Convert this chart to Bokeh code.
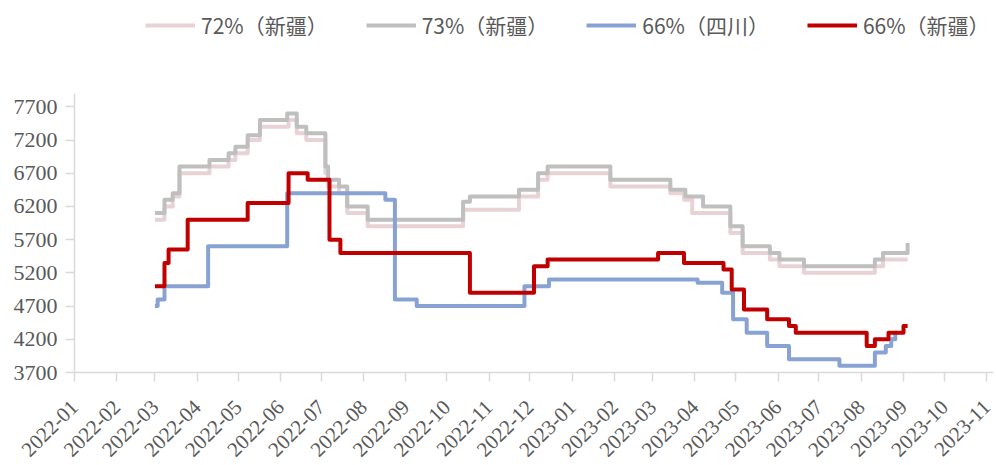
from datetime import datetime
import math

import pandas as pd
from bokeh.plotting import figure
from bokeh.layouts import column
from bokeh.models import (Range1d, FixedTicker, DatetimeTickFormatter,
                          Legend, LegendItem, ColumnDataSource)
from bokeh.embed import file_html
from bokeh.resources import INLINE

# ---- price series (yuan/t), each entry marks the date a new price starts ----
pink_dates = ["2022-03-01", "2022-03-08", "2022-03-14", "2022-03-19", "2022-04-10",
              "2022-04-24", "2022-04-29", "2022-05-08", "2022-05-17", "2022-06-07",
              "2022-06-13", "2022-06-20", "2022-07-04", "2022-07-06", "2022-07-14",
              "2022-07-20", "2022-08-04", "2022-10-13", "2022-11-23", "2022-12-07",
              "2022-12-14", "2023-01-29", "2023-03-14", "2023-03-24", "2023-03-30",
              "2023-04-27", "2023-05-06", "2023-05-26", "2023-06-02", "2023-06-20",
              "2023-08-11", "2023-08-17", "2023-09-04"]
pink_vals = [6000, 6200, 6350, 6700, 6800,
             6900, 7000, 7200, 7400, 7500,
             7300, 7200, 6700, 6500, 6400,
             6100, 5900, 6150, 6350, 6600,
             6700, 6500, 6400, 6300, 6100,
             5800, 5500, 5400, 5300, 5200,
             5300, 5400, 5400]

gray_dates = ["2022-03-01", "2022-03-08", "2022-03-14", "2022-03-19", "2022-04-10",
              "2022-04-24", "2022-04-29", "2022-05-08", "2022-05-17", "2022-06-06",
              "2022-06-13", "2022-06-20", "2022-07-04", "2022-07-06", "2022-07-14",
              "2022-07-20", "2022-08-04", "2022-10-13", "2022-10-18", "2022-11-23",
              "2022-12-07", "2022-12-14", "2023-01-29", "2023-03-14", "2023-03-25",
              "2023-04-07", "2023-04-27", "2023-05-06", "2023-05-26", "2023-06-02",
              "2023-06-20", "2023-08-11", "2023-08-17", "2023-09-03", "2023-09-04"]
gray_vals = [6100, 6300, 6400, 6800, 6900,
             7000, 7100, 7270, 7500, 7600,
             7400, 7300, 6800, 6600, 6500,
             6200, 6000, 6270, 6350, 6450,
             6700, 6800, 6600, 6450, 6350,
             6200, 5900, 5600, 5500, 5400,
             5300, 5400, 5500, 5500, 5650]

blue_dates = ["2022-03-01", "2022-03-03", "2022-03-08", "2022-04-09", "2022-06-06",
              "2022-08-17", "2022-08-24", "2022-09-09", "2022-11-27", "2022-12-15",
              "2023-04-03", "2023-04-21", "2023-04-29", "2023-05-09", "2023-05-24",
              "2023-06-09", "2023-07-16", "2023-08-11", "2023-08-19", "2023-08-23",
              "2023-08-26", "2023-08-27"]
blue_vals = [4700, 4800, 5000, 5600, 6400,
             6300, 4800, 4700, 5000, 5100,
             5050, 4900, 4500, 4300, 4100,
             3900, 3800, 4000, 4100, 4200,
             4300, 4300]

red_dates = ["2022-03-01", "2022-03-08", "2022-03-11", "2022-03-25", "2022-05-08",
             "2022-06-07", "2022-06-21", "2022-07-07", "2022-07-15", "2022-10-18",
             "2022-12-04", "2022-12-14", "2023-03-05", "2023-03-24", "2023-04-22",
             "2023-04-28", "2023-05-07", "2023-05-24", "2023-06-09", "2023-06-14",
             "2023-08-05", "2023-08-11", "2023-08-21", "2023-09-01", "2023-09-04"]
red_vals = [5000, 5350, 5550, 6000, 6250,
            6700, 6600, 5700, 5500, 4900,
            5300, 5400, 5500, 5350, 5250,
            4950, 4650, 4500, 4400, 4300,
            4100, 4200, 4300, 4400, 4400]

series_labels = ["72%（新疆）", "73%（新疆）", "66%（四川）", "66%（新疆）"]
series_colors = ["#E9D2D5", "#BFBFBF", "#88A3D3", "#C00000"]

month_ticks = pd.date_range("2022-01-01", "2023-11-01", freq="MS")
y_ticks = [3700, 4200, 4700, 5200, 5700, 6200, 6700, 7200, 7700]

LINE_W = 4

# ---- legend strip across the top (its swatch lines sit outside the visible range) ----
p_leg = figure(width=996, height=50, output_backend="svg", toolbar_location=None,
               x_axis_location=None, y_axis_location=None,
               x_range=Range1d(0, 1), y_range=Range1d(0, 1),
               min_border=0, outline_line_color=None)
p_leg.xgrid.visible = False
p_leg.ygrid.visible = False
leg_items = []
for lab, color in zip(series_labels, series_colors):
    swatch = p_leg.line(x=[5, 6], y=[5, 6], line_color=color, line_width=LINE_W)
    leg_items.append(LegendItem(label=lab, renderers=[swatch]))
legend = Legend(items=leg_items, orientation="horizontal", location=(71, 10))
legend.background_fill_alpha = 0
legend.border_line_alpha = 0
legend.padding = 0
legend.margin = 0
legend.spacing = 38
legend.glyph_width = 50
legend.glyph_height = 24
legend.label_standoff = 6
legend.label_text_font = "Noto Sans CJK SC"
legend.label_text_font_size = "21px"
legend.label_text_color = "#595959"
p_leg.add_layout(legend)

# ---- main chart ----
p = figure(width=996, height=415, x_axis_type="datetime",
           output_backend="svg", toolbar_location=None,
           x_range=Range1d(datetime(2022, 1, 1), datetime(2023, 11, 6)),
           y_range=Range1d(3700, 7900),
           min_border_left=74, min_border_right=3,
           min_border_top=43, min_border_bottom=92)
p.outline_line_color = None
p.background_fill_color = "white"
p.border_fill_color = "white"
p.xgrid.visible = False
p.ygrid.visible = False

for dates, vals, color in [(pink_dates, pink_vals, series_colors[0]),
                           (gray_dates, gray_vals, series_colors[1]),
                           (blue_dates, blue_vals, series_colors[2]),
                           (red_dates, red_vals, series_colors[3])]:
    src = ColumnDataSource(dict(x=pd.to_datetime(dates), y=vals))
    p.step("x", "y", source=src, mode="after", line_color=color,
           line_width=LINE_W, line_join="round")

# x axis: one tick per month, rotated labels
xa = p.xaxis[0]
xa.ticker = FixedTicker(ticks=[t.value // 10**6 for t in month_ticks])
fmt = "%Y-%m"
xa.formatter = DatetimeTickFormatter(milliseconds=fmt, seconds=fmt, minsec=fmt,
                                     minutes=fmt, hourmin=fmt, hours=fmt,
                                     days=fmt, months=fmt, years=fmt)
xa.major_label_orientation = math.pi / 4
xa.axis_line_color = "#D9D9D9"
xa.axis_line_width = 1.5
xa.major_tick_line_color = "#D9D9D9"
xa.major_tick_line_width = 1.5
xa.major_tick_in = 0
xa.major_tick_out = 9
xa.minor_tick_line_color = None
xa.major_label_text_font = "Liberation Serif"
xa.major_label_text_font_size = "21px"
xa.major_label_text_color = "#595959"
xa.major_label_standoff = 22

ya = p.yaxis[0]
ya.ticker = FixedTicker(ticks=y_ticks)
ya.axis_line_color = "#D9D9D9"
ya.axis_line_width = 1.5
ya.major_tick_line_color = "#D9D9D9"
ya.major_tick_line_width = 1.5
ya.major_tick_in = 0
ya.major_tick_out = 9
ya.minor_tick_line_color = None
ya.major_label_text_font = "Liberation Serif"
ya.major_label_text_font_size = "22px"
ya.major_label_text_color = "#595959"
ya.major_label_standoff = 8

layout = column(p_leg, p, spacing=0)
open("out.html", "w").write(file_html(layout, INLINE))
